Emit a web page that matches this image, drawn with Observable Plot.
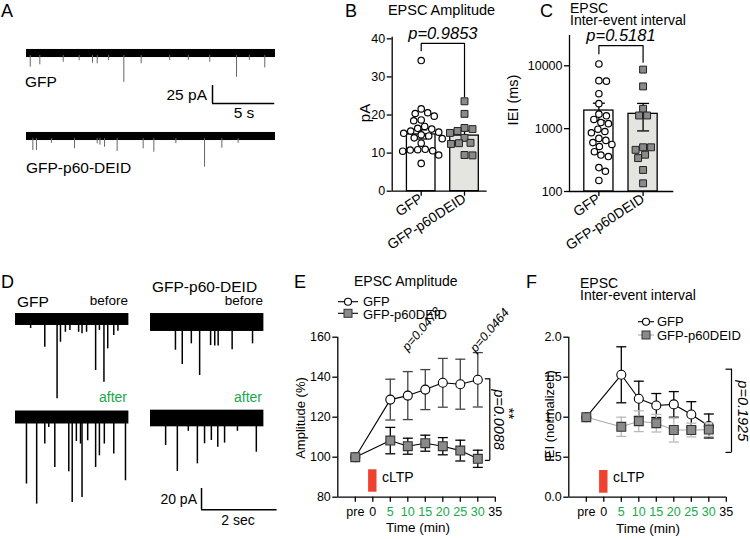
<!DOCTYPE html>
<html><head><meta charset="utf-8">
<script src="https://cdn.jsdelivr.net/npm/d3@7"></script>
<script src="https://cdn.jsdelivr.net/npm/@observablehq/plot@0.6"></script>
<style>
body{margin:0;background:#fff;}
#fig{position:relative;width:750px;height:539px;overflow:hidden;background:#fff;}
#fig svg{position:absolute;overflow:visible;}
</style></head><body><div id="fig"></div>
<script>
// ================= DATA =================
// Panel A: spontaneous EPSC events [time (s), peak (pA)] in a 20 s sweep
const sweepA = 20;
const noiseA_GFP = 5.6, noiseA_P60 = 5.6;           // baseline noise half-width (pA)
const eventsA_GFP = [[0.30,-19],[1.07,-15.7],[2.95,-12.1],[4.23,-10.1],[5.30,-13.5],[5.68,-14.3],[6.6,-10],[7.82,-40],[9.21,-14.3],[11.5,-9.5],[13.0,-9.5],[14.72,-12.1],[16.87,-33],[17.9,-9.5],[19.14,-20]];
const eventsA_P60 = [[0.51,-19.4],[0.80,-19.4],[2.0,-9.5],[3.86,-17.1],[5.68,-10.2],[5.9,-12],[6.27,-14.9],[7.28,-20.8],[9.37,-17.1],[10.23,-21.8],[12.0,-10],[14.30,-42.6],[15.69,-16.3],[17.0,-9.5]];
const scaleA_pA = 25, scaleA_s = 5;

// Panel D: 3 s sweeps before / after cLTP
const sweepD = 3;
const noiseD_GFPbefore = 5.6, noiseD_GFPafter = 6.1, noiseD_P60before = 8.4, noiseD_P60after = 7.8;
const eventsD_GFPbefore = [[0.40,-8.4],[0.775,-26],[1.10,-74.3],[1.19,-21.3],[1.32,-12],[1.44,-10.3],[1.67,-12],[1.76,-13.4],[1.88,-12],[2.12,-47.8],[2.22,-10.3],[2.34,-58.8],[2.44,-27.5],[2.60,-15],[2.71,-11]];
const eventsD_GFPafter = [[0.29,-62.4],[0.56,-81.2],[0.775,-24.9],[0.88,-9.4],[1.04,-46.9],[1.41,-50.9],[1.50,-79.7],[1.61,-22.5],[1.72,-24.9],[1.76,-75],[1.91,-21.8],[2.12,-46.9],[2.22,-35.9],[2.35,-24.9],[2.60,-34.3],[2.91,-59.3]];
const eventsD_P60before = [[0.66,-26],[0.84,-39.4],[1.08,-20],[1.30,-49.7],[1.59,-21.6],[1.70,-22],[1.79,-22],[2.16,-25.6],[2.70,-20]];
const eventsD_P60after = [[0.40,-25.3],[0.71,-49.7],[1.0,-12],[1.24,-42.5],[1.43,-23.7],[1.61,-20.6],[1.78,-26.9],[1.96,-23.1],[2.3,-12],[2.80,-31.6]];
const scaleD_pA = 20, scaleD_s = 2;

// Panels B & C: groups
const groups = ["GFP", "GFP-p60DEID"];
const ampMean = [14.9, 14.6], ampSem = [1.2, 1.3];
const ampGFP = [34.3,21.6,20.6,20.4,19.7,18.7,18.5,17.0,16.5,16.3,15.8,15.5,15.2,14.8,14.5,14.0,13.8,12.6,11.0,10.9,10.8,10.6,10.5,9.5,7.3];
const ampP60 = [23.6,20.3,16.6,16.3,15.8,15.3,14.0,12.7,12.6,12.4,9.5,9.4];
const ampTicks = [0,10,20,30,40];
const pAmp = "p=0.9853";
const bracketB = [36.9, 38.8, 24.8];   // left leg end, top, right leg end (pA)

const ieiMean = [1940, 1720], ieiSem = [600, 800];
const ieiGFP = [10700,5800,5700,3600,2500,1700,1600,1400,1250,1200,980,900,860,700,650,600,560,520,430,380,360,240,210,150];
const ieiP60 = [8700,4700,2070,1620,1620,505,505,460,385,340,220,135];
const ieiTicks = [100,1000,10000];
const pIei = "p=0.5181";
const bracketC = [15500, 21000, 11400];

// Panels E & F: time course (pre plotted at -5 min)
const timePts = [-5, 5, 10, 15, 20, 25, 30];
const timeTicks = [-5, 0, 5, 10, 15, 20, 25, 30, 35];
const timeTickLabels = ["pre","0","5","10","15","20","25","30","35"];
const greenTicks = [5, 10, 15, 20, 25, 30];
const cltpWindow = [-1.2, 1.2];

const eAmpGFP = [100, 128.8, 130.8, 133.8, 137.2, 136.5, 138.7];
const eAmpGFPsem = [0, 10.2, 12, 10, 12.2, 12.5, 13.6];
const eAmpP60 = [100, 108.3, 105.5, 107, 105.5, 103.3, 99.2];
const eAmpP60sem = [0, 6.6, 4, 4, 4.3, 5.2, 4.3];
const eTicks = [80,100,120,140,160];
const bracketE = [139.2, 98.4];
const pE_10 = "p=0.0478", pE_30 = "p=0.0464", pE_all = "p=0.0088";

const fIeiGFP = [1, 1.53, 1.23, 1.146, 1.16, 1.034, 0.89];
const fIeiGFPsem = [0, 0.35, 0.22, 0.15, 0.16, 0.16, 0.15];
const fIeiP60 = [1, 0.88, 0.95, 0.925, 0.84, 0.84, 0.845];
const fIeiP60sem = [0, 0.12, 0.13, 0.11, 0.15, 0.085, 0.085];
const fTicks = [0, 0.5, 1, 1.5, 2];
const bracketF = [1.6, 0.56];
const pF_all = "p=0.1925";

// ================= STYLE / HELPERS =================
const FONT = "Arial, 'Liberation Sans', Helvetica, sans-serif";
const GREEN = "#17a94b", RED = "#ee4130", BARGREY = "#e4e4e0", SQ = "#8a8a8a";
const fig = document.getElementById("fig");
function place(svg, left, top) { svg.style.left = left + "px"; svg.style.top = top + "px"; fig.appendChild(svg); }
const baseStyle = {fontFamily: FONT, fontSize: "12.5px", color: "black", background: "transparent", overflow: "visible"};
const capSym = {draw(ctx, size) { const w = Math.sqrt(size / Math.PI); ctx.moveTo(-w, 0); ctx.lineTo(w, 0); }};
const leftTick = {draw(ctx, size) { const w = Math.sqrt(size / Math.PI); ctx.moveTo(-w, 0); ctx.lineTo(0, 0); }};

function trace(events, noise, cfg) {
  const width = cfg.sweep * cfg.pxs;
  const yMax = cfg.cy / cfg.pxa, yMin = yMax - cfg.height / cfg.pxa;
  const data = events.map(([t, a]) => ({t, a}));
  const svg = Plot.plot({
    width, height: cfg.height, margin: 0,
    x: {domain: [0, cfg.sweep], axis: null}, y: {domain: [yMin, yMax], axis: null},
    style: baseStyle,
    marks: [
      Plot.rect([noise], {x1: 0, x2: cfg.sweep, y1: d => -d, y2: d => d, fill: "black"}),
      Plot.ruleX(data, {x: "t", y1: -noise * 0.5, y2: "a", stroke: cfg.color, strokeWidth: cfg.sw})
    ]
  });
  place(svg, cfg.left, cfg.top - cfg.cy);
}
function scaleBar(pA, s, cfg) {
  const svg = Plot.plot({
    width: s * cfg.pxs, height: pA * cfg.pxa, margin: 0,
    x: {domain: [0, s], axis: null}, y: {domain: [0, pA], axis: null}, style: baseStyle,
    marks: [Plot.ruleX([0], {y1: 0, y2: pA, strokeWidth: 1.5}), Plot.ruleY([0], {x1: 0, x2: s, strokeWidth: 1.5})]
  });
  place(svg, cfg.left, cfg.bottom - pA * cfg.pxa);
}
function swarm(vals, ypx, d) {
  const placed = [];
  return vals.map(v => {
    const y = ypx(v);
    let best = 0;
    for (let k = 0; k < 400; k++) {
      const off = (k % 2 ? 1 : -1) * Math.ceil(k / 2) * 0.5;
      if (placed.every(p => Math.hypot(p.x - off, p.y - y) >= d)) { best = off; break; }
    }
    placed.push({x: best, y});
    return best;
  });
}

// ================= PANEL A =================
const cfgA = {pxs: 12.45, pxa: 0.72, sweep: sweepA, color: "#666", sw: 1};
trace(eventsA_GFP, noiseA_GFP, {...cfgA, left: 26, top: 53, cy: 12, height: 45});
trace(eventsA_P60, noiseA_P60, {...cfgA, left: 26, top: 136, cy: 12, height: 50});
scaleBar(scaleA_pA, scaleA_s, {pxs: 12.45, pxa: 0.72, left: 212, bottom: 103});

// ================= PANEL D =================
const cfgD = {pxs: 37.8, pxa: 1.067, sweep: sweepD, color: "black", sw: 1.5};
trace(eventsD_GFPbefore, noiseD_GFPbefore, {...cfgD, left: 15, top: 319, cy: 12, height: 95});
trace(eventsD_GFPafter, noiseD_GFPafter, {...cfgD, left: 15, top: 416.7, cy: 12, height: 100});
trace(eventsD_P60before, noiseD_P60before, {...cfgD, left: 150, top: 322, cy: 14, height: 70});
trace(eventsD_P60after, noiseD_P60after, {...cfgD, left: 150, top: 418, cy: 14, height: 70});
scaleBar(scaleD_pA, scaleD_s, {pxs: 37.8, pxa: 1.067, left: 201, bottom: 509.3});

// ================= BAR PANELS (B, C) =================
function barPanel(cfg) {
  const {W, H, mL, mR, mT, mB, xDom, yDom, yType, means, sems, gfp, p60, ticks, tickFmt, bracket, pText, left, top} = cfg;
  const pxX = (W - mL - mR) / (xDom[1] - xDom[0]);
  const ys = (yType === "log" ? d3.scaleLog() : d3.scaleLinear()).domain(yDom).range([H - mB, mT]);
  const o1 = swarm(gfp, ys, 7.2), o2 = swarm(p60, ys, 7.6);
  const pts1 = gfp.map((v, k) => ({x: 0 + o1[k] / pxX, y: v}));
  const pts2 = p60.map((v, k) => ({x: 1 + o2[k] / pxX, y: v}));
  const bars = groups.map((g, i) => ({i, m: means[i], lo: means[i] - sems[i], hi: means[i] + sems[i]}));
  const base = yDom[0];
  const svg = Plot.plot({
    width: W, height: H, marginLeft: mL, marginRight: mR, marginTop: mT, marginBottom: mB,
    x: {type: "linear", domain: xDom}, y: {type: yType, domain: yDom},
    style: baseStyle,
    marks: [
      Plot.rectY(bars, {x1: d => d.i - 0.33, x2: d => d.i + 0.33, y1: base, y2: "m", fill: d => d.i ? BARGREY : "white", stroke: "black", strokeWidth: 1.3}),
      Plot.ruleX(bars, {x: "i", y1: "lo", y2: "hi", strokeWidth: 1.3}),
      Plot.dot(bars, {x: "i", y: "hi", symbol: capSym, r: 6, fill: "none", stroke: "black", strokeWidth: 1.3}),
      Plot.dot(bars, {x: "i", y: "lo", symbol: capSym, r: 6, fill: "none", stroke: "black", strokeWidth: 1.3}),
      Plot.dot(pts1, {x: "x", y: "y", r: 3.2, fill: "white", stroke: "black", strokeWidth: 1.2}),
      Plot.dot(pts2, {x: "x", y: "y", symbol: "square", r: 3.9, fill: SQ, stroke: "#222", strokeWidth: 1}),
      Plot.ruleX([xDom[0]], {strokeWidth: 1.3}),
      Plot.ruleY([base], {strokeWidth: 1.3}),
      Plot.axisY({ticks, tickFormat: tickFmt, tickSize: 5, tickPadding: 2, strokeWidth: 1.3, label: null, fontSize: 12.5}),
      Plot.axisX({ticks: [0, 1], tickFormat: i => groups[i], tickRotate: -33, tickSize: 5, tickPadding: 1, strokeWidth: 1.3, label: null, fontSize: 14}),
      Plot.line([{x: 0, y: bracket[0]}, {x: 0, y: bracket[1]}, {x: 1, y: bracket[1]}, {x: 1, y: bracket[2]}], {x: "x", y: "y", strokeWidth: 1.2}),
      Plot.text([pText], {x: 0.5, y: bracket[1], dy: -10, fontSize: 16.5, fontStyle: "italic", textAnchor: "middle"})
    ]
  });
  place(svg, left, top);
}
barPanel({left: 340, top: 0, W: 160, H: 262, mL: 51.7, mR: 13.3, mT: 36.8, mB: 71.3,
  xDom: [-0.67, 1.524], yDom: [0, 40.4], yType: "linear", means: ampMean, sems: ampSem,
  gfp: ampGFP, p60: ampP60, ticks: ampTicks, tickFmt: d3.format("d"), bracket: bracketB, pText: pAmp});
barPanel({left: 500, top: 0, W: 190, H: 262, mL: 69, mR: 16.7, mT: 35, mB: 71,
  xDom: [-0.665, 1.695], yDom: [100, 30340], yType: "log", means: ieiMean, sems: ieiSem,
  gfp: ieiGFP, p60: ieiP60, ticks: ieiTicks, tickFmt: d3.format("d"), bracket: bracketC, pText: pIei});

// ================= TIME-COURSE PANELS (E, F) =================
function seriesMarks(means, sems, s) {
  const pts = timePts.map((t, i) => ({t, m: means[i], lo: means[i] - sems[i], hi: means[i] + sems[i], e: sems[i]}));
  const err = pts.filter(d => d.e > 0);
  return [
    Plot.ruleX(err, {x: "t", y1: "lo", y2: "hi", stroke: s.err, strokeWidth: 1.3}),
    Plot.dot(err, {x: "t", y: "hi", symbol: capSym, r: 5, fill: "none", stroke: s.err, strokeWidth: 1.3}),
    Plot.dot(err, {x: "t", y: "lo", symbol: capSym, r: 5, fill: "none", stroke: s.err, strokeWidth: 1.3}),
    Plot.line(pts, {x: "t", y: "m", stroke: s.line, strokeWidth: 1.1}),
    Plot.dot(pts, {x: "t", y: "m", symbol: s.symbol, r: s.r, fill: s.fill, stroke: s.stroke, strokeWidth: 1.1})
  ];
}
function timePanel(cfg) {
  const black = timeTicks.filter(t => !greenTicks.includes(t));
  const lab = t => timeTickLabels[timeTicks.indexOf(t)];
  const svg = Plot.plot({
    width: cfg.W, height: 269, marginLeft: cfg.mL, marginRight: cfg.mR, marginTop: 66.7, marginBottom: 42.3,
    x: {domain: [-10, 35]}, y: {domain: cfg.yDom},
    style: baseStyle,
    marks: [
      Plot.rect([cltpWindow], {x1: d => d[0], x2: d => d[1], fill: RED, insetTop: cfg.cltpTop, insetBottom: cfg.cltpBottom}),
      Plot.text(["cLTP"], {x: cltpWindow[1], frameAnchor: "bottom", dy: -15, dx: cfg.cltpDx, textAnchor: "start", fontSize: 14}),
      ...cfg.marks,
      Plot.ruleX([-10], {strokeWidth: 1.3}),
      Plot.ruleY([cfg.yDom[0]], {strokeWidth: 1.3}),
      Plot.axisY({ticks: cfg.yTicks, tickFormat: cfg.yFmt, tickSize: 5, tickPadding: 2, strokeWidth: 1.3, label: null, fontSize: 12.5}),
      Plot.axisX({ticks: black, tickFormat: lab, tickSize: 5, tickPadding: 5, strokeWidth: 1.3, label: null, fontSize: 12.5}),
      Plot.axisX({ticks: greenTicks, tickFormat: lab, tickSize: 5, tickPadding: 5, strokeWidth: 1.3, stroke: "black", fill: GREEN, label: null, fontSize: 12.5})
    ]
  });
  place(svg, cfg.left, 270);
}
const sGFP = {err: "#444", line: "black", symbol: "circle", r: 4.5, fill: "white", stroke: "black"};
const sP60E = {err: "black", line: "black", symbol: "square", r: 5, fill: SQ, stroke: "#333"};
const sGFPF = {err: "black", line: "black", symbol: "circle", r: 4.5, fill: "white", stroke: "black"};
const sP60F = {err: "#b8b8b8", line: "#aaaaaa", symbol: "square", r: 5, fill: SQ, stroke: "#333"};

timePanel({left: 290, W: 250, mL: 47.3, mR: 45.2, yDom: [80, 160], yTicks: eTicks, yFmt: d3.format("d"),
  cltpTop: 132.6, cltpBottom: 5, cltpDx: 5,
  marks: [
    ...seriesMarks(eAmpGFP, eAmpGFPsem, sGFP),
    ...seriesMarks(eAmpP60, eAmpP60sem, sP60E),
    Plot.ruleX([30], {y1: bracketE[1], y2: bracketE[0], dx: 12, strokeWidth: 1.2}),
    Plot.dot(bracketE, {x: 30, y: d => d, dx: 12, symbol: leftTick, r: 5, fill: "none", stroke: "black", strokeWidth: 1.2}),
    Plot.text([pE_all], {x: 30, y: (bracketE[0] + bracketE[1]) / 2, dx: 21, rotate: 90, fontSize: 14.5, fontStyle: "italic"}),
    Plot.text(["**"], {x: 30, y: (bracketE[0] + bracketE[1]) / 2 + 3, dx: 31, rotate: 90, fontSize: 15}),
    Plot.text([pE_10], {x: 10, y: 154, dx: -3, rotate: -50, textAnchor: "start", fontSize: 12.5, fontStyle: "italic"}),
    Plot.text([pE_30], {x: 30, y: 153.4, dx: -5, rotate: -50, textAnchor: "start", fontSize: 12.5, fontStyle: "italic"})
  ]});
timePanel({left: 520, W: 230, mL: 48.3, mR: 24.2, yDom: [0, 2], yTicks: fTicks, yFmt: d3.format(".1f"),
  cltpTop: 133.3, cltpBottom: 4, cltpDx: 5,
  marks: [
    ...seriesMarks(fIeiGFP, fIeiGFPsem, sGFPF),
    ...seriesMarks(fIeiP60, fIeiP60sem, sP60F),
    Plot.ruleX([30], {y1: bracketF[1], y2: bracketF[0], dx: 22.7, strokeWidth: 1.2}),
    Plot.dot(bracketF, {x: 30, y: d => d, dx: 22.7, symbol: leftTick, r: 6, fill: "none", stroke: "black", strokeWidth: 1.2}),
    Plot.text([pF_all], {x: 30, y: (bracketF[0] + bracketF[1]) / 2, dx: 33.5, rotate: 90, fontSize: 14.5, fontStyle: "italic"})
  ]});

// ================= TEXT OVERLAY =================
const ov = d3.select("#fig").append("svg").attr("width", 750).attr("height", 539)
  .style("left", "0px").style("top", "0px").style("font-family", FONT);
function txt(s, x, y, size, o = {}) {
  const t = ov.append("text").attr("x", x).attr("y", y).attr("font-size", size).text(s);
  if (o.anchor) t.attr("text-anchor", o.anchor);
  if (o.fill) t.attr("fill", o.fill);
  if (o.italic) t.attr("font-style", "italic");
  if (o.rotate) t.attr("transform", `rotate(${o.rotate},${x},${y})`).attr("dominant-baseline", "central");
  return t;
}
// panel letters
[["A",1,17],["B",345,17],["C",540,17],["D",1,288],["E",294,288],["F",526,288]].forEach(([s,x,y]) => txt(s, x, y, 18));
// A
txt("GFP", 25, 87, 15.5); txt("GFP-p60-DEID", 26, 173, 15.5);
txt(scaleA_pA + " pA", 207, 100, 15.5, {anchor: "end"}); txt(scaleA_s + " s", 244, 118, 15.5, {anchor: "middle"});
// B
txt("EPSC Amplitude", 441.5, 15, 14.5, {anchor: "middle"}); txt("pA", 364, 113, 15, {anchor: "middle", rotate: -90});
// C
txt("EPSC", 570, 13, 14); txt("Inter-event interval", 570, 24.5, 14);
txt("IEI (ms)", 513, 100, 14.5, {anchor: "middle", rotate: -90});
// D
txt("GFP", 17, 306.5, 15.5); txt("before", 128, 305, 13.5, {anchor: "end"});
txt("GFP-p60-DEID", 152, 292, 15.5); txt("before", 263, 305, 13.5, {anchor: "end"});
txt("after", 127, 402, 14, {anchor: "end", fill: GREEN}); txt("after", 262, 402, 14, {anchor: "end", fill: GREEN});
txt(scaleD_pA + " pA", 197, 504, 14, {anchor: "end"}); txt(scaleD_s + " sec", 238, 525, 14, {anchor: "middle"});
// E
txt("EPSC Amplitude", 354, 286, 14);
txt("GFP", 363, 306, 13); txt("GFP-p60DEID", 363, 318.5, 13);
txt("Amplitude (%)", 300, 418, 13, {anchor: "middle", rotate: -90});
txt("Time (min)", 418, 532, 13.5, {anchor: "middle"});
// F
txt("EPSC", 580, 288, 14); txt("Inter-event interval", 580, 299.5, 14);
txt("GFP", 657, 326, 13); txt("GFP-p60DEID", 657, 339.5, 13);
txt("IEI (normalized)", 549, 416, 13, {anchor: "middle", rotate: -90});
txt("Time (min)", 648, 533, 13.5, {anchor: "middle"});
// legend glyphs
function legendRow(x0, x1, y, lineColor, sym) {
  ov.append("line").attr("x1", x0).attr("x2", x1).attr("y1", y).attr("y2", y).attr("stroke", lineColor).attr("stroke-width", 1.1);
  const cx = (x0 + x1) / 2;
  if (sym === "circle") ov.append("circle").attr("cx", cx).attr("cy", y).attr("r", 3.5).attr("fill", "white").attr("stroke", "black").attr("stroke-width", 1.1);
  else ov.append("rect").attr("x", cx - 4).attr("y", y - 4).attr("width", 8).attr("height", 8).attr("fill", SQ).attr("stroke", "#333");
}
legendRow(338, 358, 301.7, "black", "circle"); legendRow(338, 358, 313.3, "black", "square");
legendRow(638, 654, 321.7, "black", "circle"); legendRow(638, 654, 335, "#aaaaaa", "square");
</script></body></html>
